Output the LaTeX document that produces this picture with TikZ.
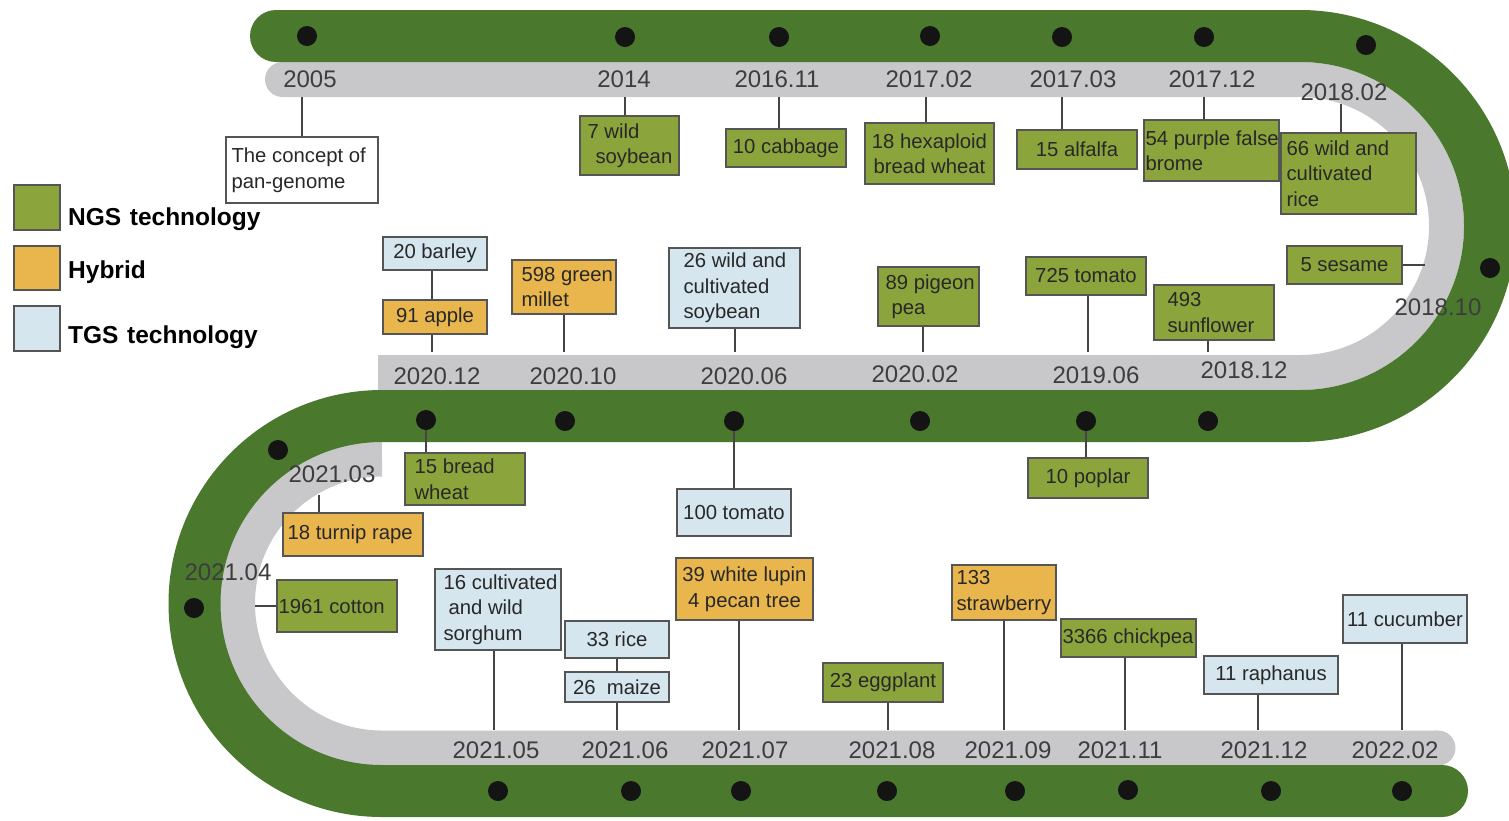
\documentclass[tikz,border=0pt]{standalone}
\usepackage{fontspec}
\setmainfont{Liberation Sans}
\definecolor{greenband}{RGB}{74,121,46}
\definecolor{grayband}{RGB}{200,200,202}
\definecolor{ngsc}{RGB}{139,165,60}
\definecolor{hybc}{RGB}{233,181,77}
\definecolor{tgsc}{RGB}{214,230,238}
\definecolor{boxline}{RGB}{85,85,85}
\definecolor{connc}{RGB}{68,68,68}
\definecolor{txtc}{RGB}{40,40,40}
\pgfdeclarelayer{bg}
\pgfdeclarelayer{cn}
\pgfsetlayers{bg,cn,main}
% left-aligned text box
\newcommand\lbox[8]{%
  \pgfmathsetmacro\mbw{#4-#2}%
  \pgfmathsetmacro\mbh{#5-#3}%
  \pgfmathsetmacro\mbx{(#2+#4)/2}%
  \pgfmathsetmacro\mby{(#3+#5)/2}%
  \node[#7, minimum width=\mbw pt, minimum height=\mbh pt] (#1) at (\mbx,\mby) {};
  \node[boxtxt, align=left, anchor=west] (#1t) at ([xshift=#6pt]#1.west) {#8};}
% centred text box
\newcommand\cbox[7]{%
  \pgfmathsetmacro\mbw{#4-#2}%
  \pgfmathsetmacro\mbh{#5-#3}%
  \pgfmathsetmacro\mbx{(#2+#4)/2}%
  \pgfmathsetmacro\mby{(#3+#5)/2}%
  \node[#6, minimum width=\mbw pt, minimum height=\mbh pt] (#1) at (\mbx,\mby) {};
  \node[boxtxt, align=center] (#1t) at (#1.center) {#7};}
\begin{document}
\begin{tikzpicture}[x=1pt,y=-1pt,
  bandG/.style={line width=52pt, draw=greenband},
  bandY/.style={line width=35pt, draw=grayband, line cap=butt},
  dot/.style={circle, fill=black!92, minimum size=20pt, inner sep=0pt},
  date/.style={font=\fontsize{24}{28}\selectfont, text=txtc!90, inner sep=0pt, anchor=base},
  box/.style={draw=boxline, line width=1.3pt, inner sep=0pt},
  boxtxt/.style={font=\fontsize{20.3}{25.5}\selectfont, text=txtc, inner sep=0pt},
  ngs/.style={box, fill=ngsc}, hyb/.style={box, fill=hybc}, tgs/.style={box, fill=tgsc}, wht/.style={box, fill=white},
  conn/.style={draw=connc, line width=1.8pt},
  legtxt/.style={font=\fontsize{24.5}{28}\selectfont\bfseries, inner sep=0pt, anchor=base west}]
\useasboundingbox (0,0) rectangle (1509,820);
% ---------- bands ----------
\begin{pgfonlayer}{bg}
\clip (0,0) rectangle (1509,820);
\fill[white] (0,0) rectangle (1509,820);
\draw[bandY] (282.5,79.5) -- (1300,79.5) arc[start angle=90,end angle=-90,radius=146.5pt] -- (378,372.5);
\fill[grayband] (282.5,79.5) circle[radius=17.5pt];
\draw[bandY] (382,459) arc[start angle=90,end angle=270,radius=144.5pt] -- (1438,748);
\fill[grayband] (1438,748) circle[radius=17.5pt];
\draw[bandG, line cap=round] (276,36) -- (1300,36) arc[start angle=90,end angle=-90,radius=190pt] -- (382,416) arc[start angle=90,end angle=270,radius=187.5pt] -- (1442,791);
\end{pgfonlayer}
% ---------- dots ----------
\foreach \x/\y [count=\i] in {307/36,625/37,779/37,930/36,1062/37,1204/37,1366/45,1490/268}
  \node[dot] (dT\i) at (\x,\y) {};
\foreach \x/\y [count=\i] in {426/420,565/421,734/421,920/421,1086/421,1208/421,278/450,194/608}
  \node[dot] (dM\i) at (\x,\y) {};
\foreach \x/\y [count=\i] in {498/791,631/791,741/791,887/791,1015/791,1128/790,1271/791,1402/791}
  \node[dot] (dB\i) at (\x,\y) {};
% ---------- dates ----------
\node[date] (t2005) at (310,87) {2005};
\node[date] (t2014) at (624,87) {2014};
\node[date] (t201611) at (777,87) {2016.11};
\node[date] (t201702) at (929,87) {2017.02};
\node[date] (t201703) at (1073,87) {2017.03};
\node[date] (t201712) at (1212,87) {2017.12};
\node[date] (t201802) at (1344,100) {2018.02};
\node[date] (t201810) at (1438,315) {2018.10};
\node[date] (t201812) at (1244,378) {2018.12};
\node[date] (t201906) at (1096,383) {2019.06};
\node[date] (t202002) at (915,382) {2020.02};
\node[date] (t202006) at (744,384) {2020.06};
\node[date] (t202010) at (573,384) {2020.10};
\node[date] (t202012) at (437,384) {2020.12};
\node[date] (t202103) at (332,482) {2021.03};
\node[date] (t202104) at (228,580) {2021.04};
\node[date] (t202105) at (496,758) {2021.05};
\node[date] (t202106) at (625,758) {2021.06};
\node[date] (t202107) at (745,758) {2021.07};
\node[date] (t202108) at (892,758) {2021.08};
\node[date] (t202109) at (1008,758) {2021.09};
\node[date] (t202111) at (1120,758) {2021.11};
\node[date] (t202112) at (1264,758) {2021.12};
\node[date] (t202202) at (1395,758) {2022.02};
% ---------- boxes ----------
\lbox{bConcept}{226}{137}{378}{203}{6}{wht}{The concept of\\pan-genome}
\lbox{bSoy7}{580}{116}{679}{175}{8}{ngs}{7 wild\\\hspace*{8pt}soybean}
\cbox{bCabbage}{726}{129}{846}{167}{ngs}{10 cabbage}
\cbox{bHexa}{865}{123}{994}{184}{ngs}{18 hexaploid\\bread wheat}
\cbox{bAlfalfa}{1017}{130}{1137}{169}{ngs}{15 alfalfa}
\lbox{bBrome}{1144}{120}{1279}{181}{2}{ngs}{54 purple false\\brome}
\lbox{bRiceSixSix}{1281}{133}{1416}{214}{6}{ngs}{66 wild and\\cultivated\\rice}
\cbox{bSesame}{1287}{246}{1402}{284}{ngs}{5 sesame}
\lbox{bSunflower}{1154}{285}{1274}{340}{14}{ngs}{493\\sunflower}
\cbox{bTomatoA}{1026}{257}{1146}{295}{ngs}{725 tomato}
\lbox{bPigeon}{878}{267}{979}{326}{8}{ngs}{89 pigeon\\\hspace*{6pt}pea}
\lbox{bSoyB}{669}{248}{800}{328}{15}{tgs}{26 wild and\\cultivated\\soybean}
\lbox{bMillet}{512}{260}{616}{314}{10}{hyb}{598 green\\millet}
\cbox{bBarley}{383}{237}{487}{270}{tgs}{20 barley}
\cbox{bApple}{383}{300}{487}{334}{hyb}{91 apple}
\lbox{bWheatB}{405}{453}{525}{505}{10}{ngs}{15 bread\\wheat}
\cbox{bTomatoB}{677}{489}{791}{536}{tgs}{100 tomato}
\cbox{bPoplar}{1028}{458}{1148}{498}{ngs}{10 poplar}
\lbox{bTurnip}{283}{513}{423}{556}{5}{hyb}{18 turnip rape}
\lbox{bCotton}{277}{580}{397}{632}{2}{ngs}{1961 cotton}
\lbox{bSorghum}{435}{569}{561}{650}{9}{tgs}{16 cultivated\\\hspace*{5pt}and wild\\sorghum}
\cbox{bRiceB}{565}{621}{669}{658}{tgs}{33 rice}
\cbox{bMaize}{565}{672}{669}{702}{tgs}{26\ \ maize}
\cbox{bLupin}{676}{558}{813}{620}{hyb}{39 white lupin\\4 pecan tree}
\cbox{bEggplant}{823}{663}{943}{702}{ngs}{23 eggplant}
\lbox{bStraw}{952}{565}{1056}{620}{5}{hyb}{133\\strawberry}
\lbox{bChickpea}{1061}{619}{1196}{657}{2}{ngs}{3366 chickpea}
\cbox{bRaphanus}{1204}{656}{1338}{694}{tgs}{11 raphanus}
\cbox{bCucumber}{1343}{595}{1467}{643}{tgs}{11 cucumber}
% ---------- connector anchors ----------
\coordinate (kA) at (302,97);
\coordinate (kB) at (625,97);
\coordinate (kC) at (779,97);
\coordinate (kD) at (926,97);
\coordinate (kE) at (1062,97);
\coordinate (kF) at (1204,97);
\coordinate (kG) at (1341,104);
\coordinate (kSes) at (1425,265);
\coordinate (kSun) at (1208,352);
\coordinate (kTom) at (1088,352);
\coordinate (kPig) at (923,352);
\coordinate (kSoy) at (735,352);
\coordinate (kMil) at (564,352);
\coordinate (kApp) at (432,352);
\coordinate (kTur) at (319,495);
\coordinate (kCot) at (255,606);
\coordinate (kSor) at (494,730);
\coordinate (kMai) at (617,730);
\coordinate (kLup) at (739,730);
\coordinate (kEgg) at (888,730);
\coordinate (kStr) at (1004,730);
\coordinate (kChi) at (1125,730);
\coordinate (kRap) at (1258,730);
\coordinate (kCuc) at (1402,730);
\begin{pgfonlayer}{cn}
\draw[conn] (kA) -- (kA |- bConcept.north);
\draw[conn] (kB) -- (kB |- bSoy7.north);
\draw[conn] (kC) -- (kC |- bCabbage.north);
\draw[conn] (kD) -- (kD |- bHexa.north);
\draw[conn] (kE) -- (kE |- bAlfalfa.north);
\draw[conn] (kF) -- (kF |- bBrome.north);
\draw[conn] (kG) -- (kG |- bRiceSixSix.north);
\draw[conn] (bSesame.east) -- (kSes);
\draw[conn] (kSun |- bSunflower.south) -- (kSun);
\draw[conn] (kTom |- bTomatoA.south) -- (kTom);
\draw[conn] (kPig |- bPigeon.south) -- (kPig);
\draw[conn] (kSoy |- bSoyB.south) -- (kSoy);
\draw[conn] (kMil |- bMillet.south) -- (kMil);
\draw[conn] (kApp |- bBarley.south) -- (kApp |- bApple.north);
\draw[conn] (kApp |- bApple.south) -- (kApp);
\draw[conn] (dM1) -- (dM1 |- bWheatB.north);
\draw[conn] (dM3) -- (dM3 |- bTomatoB.north);
\draw[conn] (dM5) -- (dM5 |- bPoplar.north);
\draw[conn] (kTur) -- (kTur |- bTurnip.north);
\draw[conn] (kCot) -- (kCot -| bCotton.west);
\draw[conn] (kSor |- bSorghum.south) -- (kSor);
\draw[conn] (kMai |- bRiceB.south) -- (kMai |- bMaize.north);
\draw[conn] (kMai |- bMaize.south) -- (kMai);
\draw[conn] (kLup |- bLupin.south) -- (kLup);
\draw[conn] (kEgg |- bEggplant.south) -- (kEgg);
\draw[conn] (kStr |- bStraw.south) -- (kStr);
\draw[conn] (kChi |- bChickpea.south) -- (kChi);
\draw[conn] (kRap |- bRaphanus.south) -- (kRap);
\draw[conn] (kCuc |- bCucumber.south) -- (kCuc);
\end{pgfonlayer}
% ---------- legend ----------
\cbox{lgN}{14}{185}{60}{230}{ngs}{}
\cbox{lgH}{14}{246}{60}{290}{hyb}{}
\cbox{lgT}{14}{306}{60}{351}{tgs}{}
\node[legtxt] (lgNt) at (68,225) {NGS\hspace{0.35em}technology};
\node[legtxt] (lgHt) at (68,278) {Hybrid};
\node[legtxt] (lgTt) at (68,343) {TGS\hspace{0.35em}technology};
\end{tikzpicture}
\end{document}
